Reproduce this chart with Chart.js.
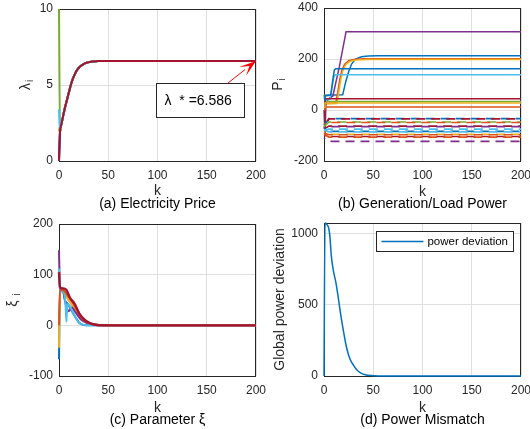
<!DOCTYPE html>
<html>
<head>
<meta charset="utf-8">
<script src="https://cdn.jsdelivr.net/npm/chart.js@4.4.1/dist/chart.umd.min.js"></script>
<style>
	body {
		margin: 0;
		background: #ffffff;
		width: 530px;
		height: 429px;
		position: relative;
		overflow: hidden;
		font-family: "Liberation Sans", Arial, Helvetica, sans-serif;
	}
	canvas {
		position: absolute;
	}
	.caption {
		position: absolute;
		font-size: 14px;
		line-height: 16px;
		color: #000000;
		white-space: nowrap;
		transform: translateX(-50%);
	}
</style>
</head>
<body>
<canvas id="chart-price" width="285" height="215" style="left:0;top:0"></canvas>
<canvas id="chart-power" width="265" height="215" style="left:265px;top:0"></canvas>
<canvas id="chart-xi" width="285" height="214" style="left:0;top:215px"></canvas>
<canvas id="chart-dev" width="265" height="214" style="left:265px;top:215px"></canvas>
<div class="caption" style="left:157.5px;top:195px">(a) Electricity Price</div>
<div class="caption" style="left:422.5px;top:195px">(b) Generation/Load Power</div>
<div class="caption" style="left:157.5px;top:411px">(c) Parameter ξ</div>
<div class="caption" style="left:422.5px;top:411px">(d) Power Mismatch</div>
<script>
// ---- data ----
const kTicks = [0, 50, 100, 150, 200];
const lamTicks = [0, 5, 10];
const powTicks = [-200, 0, 200, 400];
const xiTicks = [-100, 0, 100, 200];
const devTicks = [0, 500, 1000];

const agentColors = ["#0072BD", "#D95319", "#EDB120", "#7E2F8E", "#77AC30", "#4DBEEE", "#A2142F"];

// (a) electricity price, all agents share the curve after k = 0
const lamStar = 6.586;
const lamK = [0, 1, 2, 3, 4, 6, 8, 10, 12, 14, 16, 18, 20, 22, 25, 28, 31, 35, 40, 45, 50, 60, 200];
const lamCurve = [1.9, 2.3, 2.6, 2.9, 3.5, 4.0, 4.5, 5.0, 5.4, 5.7, 5.95, 6.12, 6.25, 6.38, 6.46, 6.51, 6.55, 6.575, 6.582, 6.585, 6.586, 6.586];
const lamStart = [0, 2.1, 2.2, 0, 10, 3.4, 0];

// (b) generation (solid) and load (dashed) power
const genColors = ["#0072BD", "#D95319", "#EDB120", "#7E2F8E", "#77AC30", "#4DBEEE", "#A2142F", "#0072BD", "#D95319", "#EDB120"];
const genK = [
	[0, 1, 19, 22, 25, 28, 32, 38, 45, 55, 200],
	[0, 1, 12, 14, 16, 18, 21, 25, 30, 40, 200],
	[0, 1, 13, 15, 17, 19, 22, 26, 32, 45, 200],
	[0, 1, 2, 5, 9, 15.6, 22.4, 200],
	[0, 1, 200],
	[0, 1, 6, 8, 10, 11.5, 200],
	[0, 1, 200],
	[0, 1, 6, 7, 9, 10.5, 12, 200],
	[0, 1, 200],
	[0, 1, 200],
];
const genP = [
	[30, 58, 60, 110, 150, 180, 200, 209, 212, 213, 213],
	[20, 26, 28, 70, 120, 155, 180, 193, 198, 201, 201],
	[15, 24, 25, 70, 118, 152, 178, 190, 196, 198, 198],
	[0, -100, 30, 45, 55, 170, 307, 307],
	[60, 33, 33],
	[50, 40, 42, 85, 128, 138, 138],
	[-100, 44, 44],
	[40, 55, 58, 62, 120, 157, 162, 162],
	[0, 12, 12],
	[10, 27, 27],
];
const loadColors = ["#0072BD", "#A2142F", "#77AC30", "#D95319", "#A2142F", "#7E2F8E", "#4DBEEE", "#0072BD", "#4DBEEE", "#EDB120", "#D95319", "#A2142F", "#D95319", "#7E2F8E"];
const loadK = [0, 5, 200];
const loadStart = [-60, -70, -65, -55, -75, -72, -80, -70, -78, -85, -90, -100, -95, -110];
const loadFinal = [-34, -35, -47, -49, -63, -65, -75, -84, -86, -95, -97, -104, -106, -123];

// (c) parameter xi
const xiColors = ["#0072BD", "#EDB120", "#7E2F8E", "#4DBEEE", "#D95319", "#A2142F"];
const xiK = [
	[0, 1, 4, 6, 9, 14, 18, 21, 25, 30, 200],
	[0, 1, 4, 8, 13, 18, 24, 30, 37, 45, 200],
	[0, 1, 4, 7, 10, 13, 17, 22, 28, 35, 45, 200],
	[0, 1, 4, 6.5, 7.5, 8.5, 11, 15, 19, 23, 30, 200],
	[0, 1, 5, 9, 14, 19, 24, 30, 36, 45, 200],
	[0, 1, 4, 7.5, 11, 16, 21, 26.5, 32, 39, 50, 200],
];
const xiV = [
	[-67, 70, 68, 50, 42, 25, 12, 4, 0.7, 0, 0],
	[-44, 72, 70, 55, 40, 26, 12, 5, 1.5, 0, 0],
	[148, 70, 68, 40, 28, 35, 25, 12, 5, 1, 0, 0],
	[112, 68, 66, 45, 7, 42, 38, 22, 8, 2, 0, 0],
	[0, 71, 69, 58, 44, 28, 13, 5, 1.5, 0, 0],
	[105, 75, 73, 70, 55, 42, 22, 10, 4, 0.7, 0, 0],
];

// (d) global power deviation
const devK = [0, 1, 2.5, 4.5, 5.8, 7.5, 9.5, 12, 14.3, 17, 19.4, 22, 24.4, 27, 30, 33, 37, 42, 48, 55, 70, 200];
const devV = [0, 1075, 1068, 1045, 993, 840, 740, 660, 560, 430, 330, 230, 160, 110, 75, 45, 22, 9, 3, 0.5, 0, 0];
const devMax = 1075;

// ---- styling ----
const fontFamily = '"Liberation Sans", Arial, Helvetica, sans-serif';
const axisColor = "#262626";
const gridColor = "#dfdfdf";
const tickFont = { family: fontFamily, size: 12 };
const labelFont = { family: fontFamily, size: 14 };

function points(ks, vs) {
	return ks.map((k, i) => ({ x: k, y: vs[i] }));
}

function buildScales(cfg) {
	return {
		x: {
			type: "linear",
			min: 0,
			max: 200,
			afterBuildTicks: (s) => {
				s.ticks = kTicks.map((v) => ({ value: v }));
			},
			afterFit: (s) => {
				s.height = cfg.xHeight;
				s.paddingLeft = 0;
				s.paddingRight = 0;
			},
			grid: { color: gridColor, drawTicks: false },
			border: { display: false },
			ticks: { color: axisColor, font: tickFont, padding: 7, autoSkip: false, maxRotation: 0, callback: (v) => String(v) },
			title: { display: true, text: "k", color: axisColor, font: labelFont, padding: { top: 0, bottom: cfg.xTitlePad } },
		},
		y: {
			type: "linear",
			min: cfg.yMin,
			max: cfg.yMax,
			afterBuildTicks: (s) => {
				s.ticks = cfg.yTicks.map((v) => ({ value: v }));
			},
			afterFit: (s) => {
				s.width = cfg.yWidth;
				s.paddingTop = 0;
				s.paddingBottom = 0;
			},
			grid: { color: gridColor, drawTicks: false },
			border: { display: false },
			ticks: { color: axisColor, font: tickFont, padding: 6, autoSkip: false, callback: (v) => String(v) },
			title: { display: !!cfg.yTitle, text: cfg.yTitle || "", color: axisColor, font: labelFont, padding: { top: cfg.yTitlePad || 0, bottom: 0 } },
		},
	};
}

// axes box sits under the lines, like the matlab default layer
const framePlugin = {
	id: "frame",
	beforeDatasetsDraw(chart) {
		const { ctx, chartArea: a } = chart;
		ctx.save();
		ctx.strokeStyle = axisColor;
		ctx.lineWidth = 1;
		ctx.strokeRect(Math.round(a.left) + 0.5, Math.round(a.top) + 0.5, Math.round(a.right - a.left) - 1, Math.round(a.bottom - a.top));
		ctx.restore();
	},
};

// y label with a real subscript (λ_i, P_i, ξ_i)
const subLabelPlugin = {
	id: "subLabel",
	afterDraw(chart, args, opts) {
		if (!opts.main) return;
		const { ctx, chartArea: a } = chart;
		ctx.save();
		ctx.translate(opts.x, (a.top + a.bottom) / 2);
		ctx.rotate(-Math.PI / 2);
		ctx.fillStyle = axisColor;
		ctx.textBaseline = "alphabetic";
		ctx.font = "14px " + fontFamily;
		const mw = ctx.measureText(opts.main).width;
		ctx.font = "10px " + fontFamily;
		const sw = ctx.measureText(opts.sub).width;
		const start = -(mw + sw + 1) / 2;
		ctx.font = "14px " + fontFamily;
		ctx.fillText(opts.main, start, 5);
		ctx.font = "10px " + fontFamily;
		ctx.fillText(opts.sub, start + mw + 1, 8);
		ctx.restore();
	},
};

const priceNotePlugin = {
	id: "priceNote",
	afterDatasetsDraw(chart) {
		const { ctx } = chart;
		const x = chart.scales.x;
		const y = chart.scales.y;
		const bx0 = x.getPixelForValue(98);
		const bx1 = x.getPixelForValue(187);
		const by0 = y.getPixelForValue(5.1);
		const by1 = y.getPixelForValue(2.85);
		ctx.save();
		ctx.fillStyle = "#ffffff";
		ctx.fillRect(bx0, by0, bx1 - bx0, by1 - by0);
		ctx.strokeStyle = "#262626";
		ctx.lineWidth = 1;
		ctx.strokeRect(Math.round(bx0) + 0.5, Math.round(by0) + 0.5, Math.round(bx1 - bx0), Math.round(by1 - by0));
		ctx.fillStyle = "#000000";
		ctx.font = "14px " + fontFamily;
		ctx.textBaseline = "middle";
		ctx.fillText("λ  * =" + lamStar.toFixed(3), bx0 + 9, (by0 + by1) / 2 + 1);

		const tx = x.getPixelForValue(171);
		const ty = by0;
		const hx = x.getPixelForValue(200);
		const hy = y.getPixelForValue(lamStar);
		const ang = Math.atan2(hy - ty, hx - tx);
		const len = 14;
		const half = 5.5;
		const bxh = hx - len * Math.cos(ang);
		const byh = hy - len * Math.sin(ang);
		ctx.strokeStyle = "#ff0000";
		ctx.lineWidth = 1;
		ctx.beginPath();
		ctx.moveTo(tx, ty);
		ctx.lineTo(bxh, byh);
		ctx.stroke();
		ctx.fillStyle = "#ff0000";
		ctx.beginPath();
		ctx.moveTo(hx, hy);
		ctx.lineTo(bxh - half * Math.sin(ang) - 3 * Math.cos(ang), byh + half * Math.cos(ang) - 3 * Math.sin(ang));
		ctx.lineTo(hx - 0.6 * len * Math.cos(ang), hy - 0.6 * len * Math.sin(ang));
		ctx.lineTo(bxh + half * Math.sin(ang) - 3 * Math.cos(ang), byh - half * Math.cos(ang) - 3 * Math.sin(ang));
		ctx.closePath();
		ctx.fill();
		ctx.restore();
	},
};

const devLegendPlugin = {
	id: "devLegend",
	afterDatasetsDraw(chart) {
		const { ctx, chartArea: a } = chart;
		const ds = chart.data.datasets[0];
		ctx.save();
		ctx.font = "11.5px " + fontFamily;
		const tw = ctx.measureText(ds.label).width;
		const w = 5 + 42 + 4 + tw + 5;
		const h = 20;
		const right = Math.round(a.right) - 8;
		const top = Math.round(a.top) + 8;
		const left = right - w;
		ctx.fillStyle = "#ffffff";
		ctx.fillRect(left, top, w, h);
		ctx.strokeStyle = axisColor;
		ctx.lineWidth = 1;
		ctx.strokeRect(Math.round(left) + 0.5, top + 0.5, Math.round(w), h);
		ctx.strokeStyle = ds.borderColor;
		ctx.lineWidth = 1.5;
		ctx.beginPath();
		ctx.moveTo(left + 5, top + h / 2 + 0.5);
		ctx.lineTo(left + 47, top + h / 2 + 0.5);
		ctx.stroke();
		ctx.fillStyle = "#000000";
		ctx.textBaseline = "middle";
		ctx.fillText(ds.label, left + 51, top + h / 2 + 1);
		ctx.restore();
	},
};

function baseOptions(scales, pad, subLabel) {
	return {
		responsive: false,
		devicePixelRatio: 1,
		animation: false,
		events: [],
		layout: { padding: pad },
		plugins: { legend: { display: false }, tooltip: { enabled: false }, subLabel: subLabel || {} },
		elements: { point: { radius: 0 } },
		scales: scales,
	};
}

// (a)
new Chart(document.getElementById("chart-price"), {
	type: "line",
	data: {
		datasets: lamStart.map((s, i) => ({
			data: points(lamK, [s, ...lamCurve]),
			borderColor: agentColors[i],
			borderWidth: 2,
			clip: 4,
			cubicInterpolationMode: "monotone",
			order: lamStart.length - i,
		})),
	},
	options: baseOptions(
		buildScales({ yMin: 0, yMax: 10, yTicks: lamTicks, xTitlePad: 15, yWidth: 59, xHeight: 54 }),
		{ left: 0, top: 9, right: 29, bottom: 0 },
		{ main: "λ", sub: "i", x: 25 }
	),
	plugins: [framePlugin, subLabelPlugin, priceNotePlugin],
});

// (b)
const powerSets = [];
genP.forEach((vals, i) => {
	powerSets.push({
		data: points(genK[i], vals),
		borderColor: genColors[i],
		borderWidth: 1.5,
		clip: 4,
		tension: 0,
		order: 100 - i,
	});
});
loadFinal.forEach((v, i) => {
	powerSets.push({
		data: points(loadK, [loadStart[i], v, v]),
		borderColor: loadColors[i],
		borderWidth: 1.7,
		borderDash: [9, 6],
		borderDashOffset: i % 2 === 1 ? 7.5 : 0,
		clip: 4,
		tension: 0,
		order: 50 - i,
	});
});
new Chart(document.getElementById("chart-power"), {
	type: "line",
	data: { datasets: powerSets },
	options: baseOptions(
		buildScales({ yMin: -200, yMax: 400, yTicks: powTicks, xTitlePad: 14, yWidth: 59, xHeight: 54 }),
		{ left: 0, top: 8, right: 9, bottom: 0 },
		{ main: "P", sub: "i", x: 12 }
	),
	plugins: [framePlugin, subLabelPlugin],
});

// (c)
new Chart(document.getElementById("chart-xi"), {
	type: "line",
	data: {
		datasets: xiV.map((vals, i) => ({
			data: points(xiK[i], vals),
			borderColor: xiColors[i],
			borderWidth: i === xiV.length - 1 ? 2.4 : 2,
			clip: 4,
			cubicInterpolationMode: "monotone",
			order: xiV.length - i,
		})),
	},
	options: baseOptions(
		buildScales({ yMin: -100, yMax: 200, yTicks: xiTicks, xTitlePad: 12, yWidth: 59, xHeight: 53 }),
		{ left: 0, top: 9, right: 29, bottom: 0 },
		{ main: "ξ ", sub: "i", x: 12 }
	),
	plugins: [framePlugin, subLabelPlugin],
});

// (d)
new Chart(document.getElementById("chart-dev"), {
	type: "line",
	data: {
		datasets: [
			{
				label: "power deviation",
				data: points(devK, devV),
				borderColor: "#0072BD",
				borderWidth: 1.5,
				clip: 4,
				cubicInterpolationMode: "monotone",
			},
		],
	},
	options: baseOptions(
		buildScales({ yMin: 0, yMax: devMax, yTicks: devTicks, yTitle: "Global power deviation", yTitlePad: 7, xTitlePad: 12, yWidth: 59, xHeight: 53 }),
		{ left: 0, top: 8, right: 9, bottom: 0 }
	),
	plugins: [framePlugin, devLegendPlugin],
});
</script>
</body>
</html>
